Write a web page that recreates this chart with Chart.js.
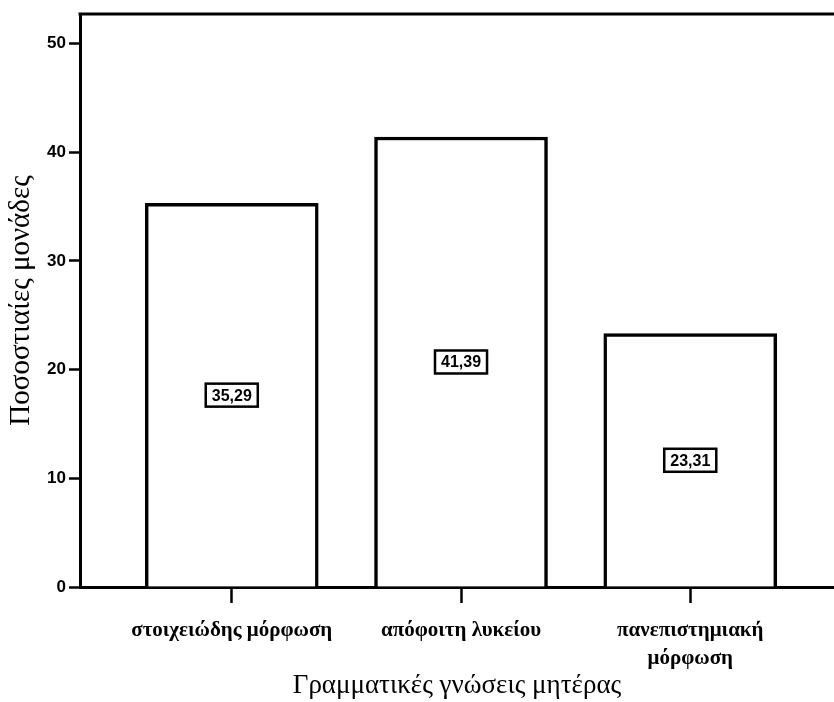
<!DOCTYPE html>
<html>
<head>
<meta charset="utf-8">
<script src="https://cdn.jsdelivr.net/npm/chart.js@4"></script>
<style>
  html, body { margin: 0; padding: 0; background: #fff; }
  #wrap { width: 834px; height: 702px; }
</style>
</head>
<body>
<div id="wrap"><canvas id="eduChart" width="834" height="702"></canvas></div>
<script>
// mother's education level, percentages
var categories = ["στοιχειώδης μόρφωση", "απόφοιτη λυκείου", ["πανεπιστημιακή", "μόρφωση"]];
var percents = [35.29, 41.39, 23.31];
var yTicks = [0, 10, 20, 30, 40, 50];

var fmt = function (v) { return v.toFixed(2).replace('.', ','); };

// boxed value label in the middle of each bar
var boxLabels = {
  id: 'boxLabels',
  afterDatasetsDraw: function (chart) {
    var ctx = chart.ctx;
    var yScale = chart.scales.y;
    chart.getDatasetMeta(0).data.forEach(function (bar, i) {
      var v = percents[i];
      var cy = yScale.getPixelForValue(v / 2);
      ctx.save();
      ctx.font = 'bold 16px "Liberation Sans", Arial, sans-serif';
      var w = ctx.measureText(fmt(v)).width + 12;
      var h = 23;
      ctx.fillStyle = '#fff';
      ctx.fillRect(bar.x - w / 2, cy - h / 2, w, h);
      ctx.lineWidth = 2.5;
      ctx.strokeStyle = '#000';
      ctx.strokeRect(bar.x - w / 2, cy - h / 2, w, h);
      ctx.fillStyle = '#000';
      ctx.textAlign = 'center';
      ctx.textBaseline = 'middle';
      ctx.fillText(fmt(v), bar.x, cy + 1);
      ctx.restore();
    });
  }
};

// top frame line of the plot area
var topFrame = {
  id: 'topFrame',
  afterDraw: function (chart) {
    var a = chart.chartArea, ctx = chart.ctx;
    ctx.save();
    ctx.strokeStyle = '#000';
    ctx.lineWidth = 3;
    ctx.beginPath();
    ctx.moveTo(a.left - 1.5, a.top);
    ctx.lineTo(a.right, a.top);
    ctx.stroke();
    ctx.restore();
  }
};

var ctx = document.getElementById('eduChart').getContext('2d');
window.eduChart = new Chart(ctx, {
  type: 'bar',
  data: {
    datasets: [{
      data: percents.map(function (v, i) { return { x: i + 1, y: v }; }),
      backgroundColor: '#fff',
      borderColor: '#000',
      borderWidth: 3.5,
      borderSkipped: 'bottom',
      barThickness: 173
    }]
  },
  options: {
    responsive: false,
    animation: false,
    layout: { padding: { top: 14, right: 0, left: 0, bottom: 0 } },
    plugins: { legend: { display: false }, tooltip: { enabled: false } },
    scales: {
      x: {
        type: 'linear',
        offset: false,
        min: 0.338,
        max: 3.627,
        afterBuildTicks: function (s) { s.ticks = categories.map(function (c, i) { return { value: i + 1 }; }); },
        afterFit: function (s) { s.height = 115; },
        grid: { offset: false, drawOnChartArea: false, drawTicks: true, tickLength: 16, tickWidth: 2.5, tickColor: '#000' },
        border: { display: true, color: '#000', width: 3 },
        ticks: {
          autoSkip: false,
          maxRotation: 0,
          padding: 13,
          color: '#000',
          font: { family: '"Liberation Serif", "Times New Roman", serif', size: 21, weight: 'bold', lineHeight: 1.35 },
          callback: function (v) { return categories[v - 1]; }
        },
        title: {
          display: true,
          text: 'Γραμματικές γνώσεις μητέρας',
          color: '#000',
          font: { family: '"Liberation Serif", "Times New Roman", serif', size: 27, weight: 'normal' },
          padding: { top: 0, bottom: 0 }
        }
      },
      y: {
        min: 0,
        max: 52.7,
        afterBuildTicks: function (s) { s.ticks = yTicks.map(function (v) { return { value: v }; }); },
        afterFit: function (s) { s.width = 80; },
        grid: { drawOnChartArea: false, drawTicks: true, tickLength: 11, tickWidth: 2.5, tickColor: '#000' },
        border: { display: true, color: '#000', width: 3 },
        ticks: {
          padding: 3,
          color: '#000',
          font: { family: '"Liberation Sans", Arial, sans-serif', size: 17, weight: 'bold' }
        },
        title: {
          display: true,
          text: 'Ποσοστιαίες μονάδες',
          color: '#000',
          font: { family: '"Liberation Serif", "Times New Roman", serif', size: 29, weight: 'normal' },
          padding: { top: 4, bottom: 0 }
        }
      }
    }
  },
  plugins: [boxLabels, topFrame]
});
</script>
</body>
</html>
